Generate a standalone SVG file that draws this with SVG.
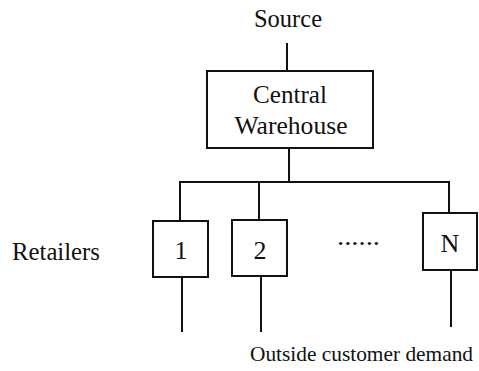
<svg xmlns="http://www.w3.org/2000/svg" width="479" height="371" viewBox="0 0 479 371">
<style>
.t{font-family:"Liberation Serif","Times New Roman",serif;font-size:26px;fill:#111}
.d{font-size:21.5px}
.box{fill:#fff;stroke:#111;stroke-width:2}
.ln{fill:none;stroke:#111;stroke-width:2}
</style>
<rect width="479" height="371" fill="#fff"/>
<g id="connectors">
<line class="ln" x1="287" y1="43" x2="287" y2="71"/>
<line class="ln" x1="289" y1="148" x2="289" y2="182"/>
<polyline class="ln" points="180,221 180,182 449,182 449,213"/>
<line class="ln" x1="259" y1="182" x2="259" y2="220"/>
<line class="ln" x1="182" y1="277" x2="182" y2="332"/>
<line class="ln" x1="261" y1="276" x2="261" y2="332"/>
<line class="ln" x1="451" y1="270" x2="451" y2="327"/>
</g>
<g id="source"><text class="t" x="288" y="27" text-anchor="middle" textLength="68" lengthAdjust="spacingAndGlyphs">Source</text></g>
<g id="warehouse">
<rect class="box" x="207" y="71" width="166" height="77"/>
<text class="t" x="290" y="103" text-anchor="middle" textLength="74" lengthAdjust="spacingAndGlyphs">Central</text>
<text class="t" x="291" y="134" text-anchor="middle" textLength="113" lengthAdjust="spacingAndGlyphs">Warehouse</text>
</g>
<g id="retailers-label"><text class="t" x="12" y="260" textLength="88" lengthAdjust="spacingAndGlyphs">Retailers</text></g>
<g id="retailer1">
<rect class="box" x="153" y="221" width="55" height="56"/>
<text class="t" x="181" y="259" text-anchor="middle">1</text>
</g>
<g id="retailer2">
<rect class="box" x="232" y="220" width="55" height="56"/>
<text class="t" x="260" y="259" text-anchor="middle">2</text>
</g>
<g id="dots"><text class="t" x="337" y="245" textLength="43" lengthAdjust="spacingAndGlyphs">......</text></g>
<g id="retailerN">
<rect class="box" x="423" y="213" width="54" height="57"/>
<text class="t" x="450" y="252" text-anchor="middle">N</text>
</g>
<g id="demand"><text class="t d" x="250" y="361" textLength="223" lengthAdjust="spacingAndGlyphs">Outside customer demand</text></g>
</svg>
